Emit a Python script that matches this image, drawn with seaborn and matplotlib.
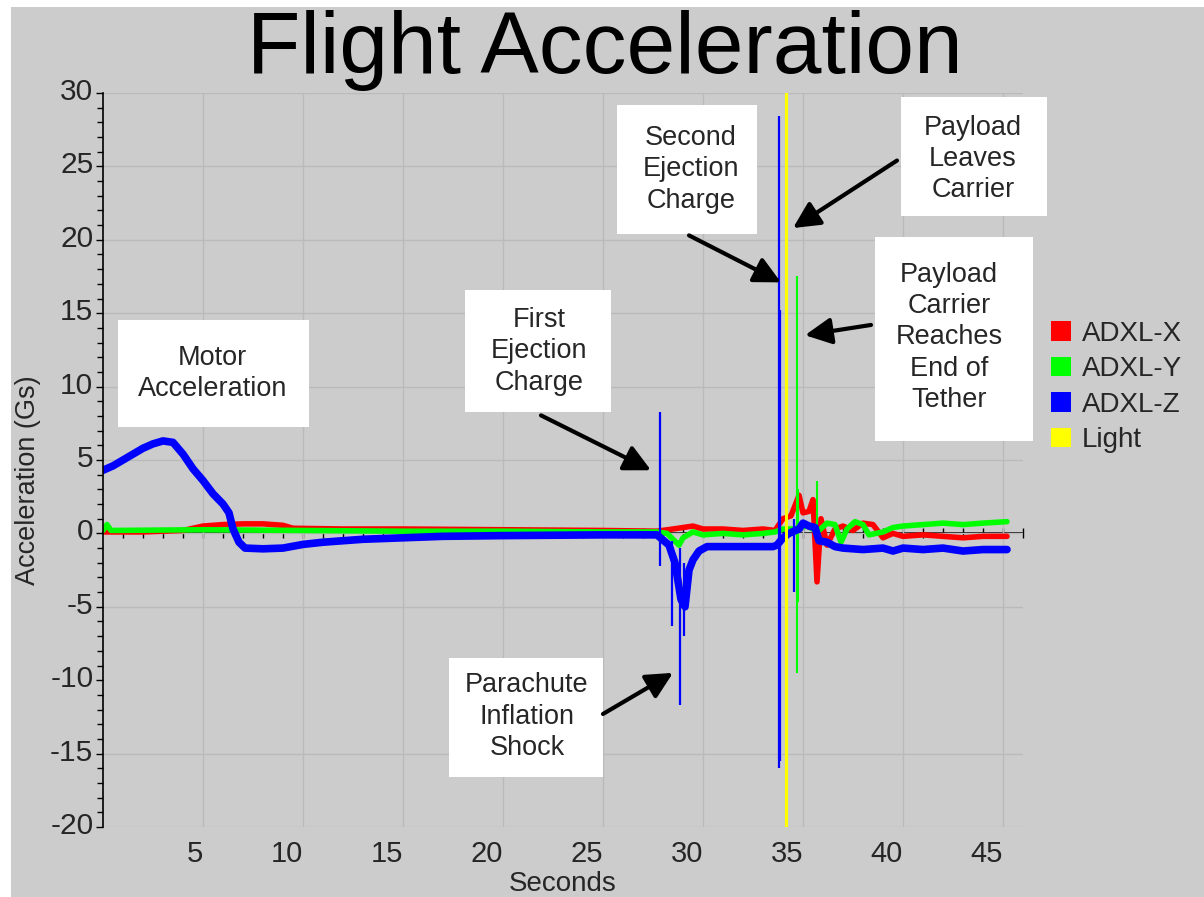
import matplotlib
matplotlib.use("Agg")
import matplotlib.pyplot as plt
import matplotlib.transforms as mtrans
from matplotlib.patches import Rectangle, Patch
from matplotlib.ticker import MultipleLocator
import seaborn as sns

# ---------------- data ----------------
# ADXL-X (red) trend
x_t = [0.0, 2.0, 4.0, 5.0, 6.0, 7.0, 8.0, 9.0, 9.5, 12.0, 15.0, 20.0, 25.0, 27.7,
       28.5, 29.0, 29.5, 30.0, 31.0, 32.0, 33.0, 33.6, 34.0, 34.4, 34.8, 35.0,
       35.3, 35.5, 35.7, 35.9, 36.2, 36.6, 37.0, 37.5, 38.0, 38.5, 39.0, 39.5,
       40.0, 41.0, 42.0, 43.0, 44.0, 45.2]
x_v = [0.1, 0.1, 0.2, 0.5, 0.6, 0.65, 0.65, 0.55, 0.35, 0.3, 0.3, 0.25, 0.2, 0.15,
       0.3, 0.4, 0.5, 0.3, 0.3, 0.2, 0.3, 0.2, 1.0, 1.2, 2.6, 1.4,
       1.5, 2.3, -3.3, 1.0, -0.8, 0.3, 0.5, 0.2, 0.7, 0.6, -0.3, 0.0,
       -0.2, -0.1, -0.2, -0.3, -0.2, -0.2]

# ADXL-Y (green) trend
y_t = [0.0, 0.2, 0.4, 5.0, 10.0, 15.0, 20.0, 25.0, 27.7, 28.2, 28.8, 29.0, 29.5,
       30.0, 31.0, 32.0, 33.0, 33.6, 34.0, 34.5, 35.2, 35.5, 35.8, 36.2, 36.6,
       36.9, 37.2, 37.6, 38.0, 38.3, 39.0, 39.5, 40.0, 41.0, 42.0, 43.0, 44.0, 45.2]
y_v = [0.2, 0.6, 0.2, 0.25, 0.2, 0.15, 0.15, 0.1, 0.1, 0.0, -0.8, -0.3, 0.1,
       -0.1, 0.0, -0.1, 0.0, 0.1, 0.3, 0.3, 0.5, 0.3, 0.2, 0.7, 0.6,
       -0.6, 0.3, 0.8, 0.6, -0.1, 0.1, 0.4, 0.5, 0.6, 0.7, 0.6, 0.7, 0.8]

# ADXL-Z (blue) trend
z_t = [0.0, 0.5, 1.0, 1.5, 2.0, 2.5, 3.0, 3.5, 4.0, 4.5, 5.0, 5.5, 6.0, 6.3, 6.5,
       6.8, 7.1, 8.0, 9.0, 10.0, 11.0, 12.0, 13.0, 14.0, 15.0, 17.0, 20.0, 25.0,
       27.7, 28.3, 28.6, 28.9, 29.1, 29.3, 29.5, 29.8, 30.2, 31.0, 33.5, 33.7,
       34.0, 34.3, 34.8, 35.0, 35.3, 35.6, 35.8, 36.2, 36.6, 37.0, 38.0, 39.0,
       39.5, 40.0, 41.0, 42.0, 43.0, 44.0, 45.2]
z_v = [4.3, 4.6, 5.0, 5.4, 5.8, 6.1, 6.3, 6.2, 5.4, 4.4, 3.6, 2.7, 2.0, 1.4, 0.3,
       -0.6, -1.0, -1.05, -1.0, -0.75, -0.6, -0.5, -0.4, -0.35, -0.3, -0.2, -0.15, -0.1,
       -0.1, -0.8, -2.0, -4.5, -5.0, -2.5, -1.8, -1.2, -0.9, -0.9, -0.9, -0.8,
       -0.3, 0.0, 0.3, 0.7, 0.5, 0.4, -0.5, -0.6, -0.9, -1.0, -1.1, -1.0,
       -1.2, -1.0, -1.1, -1.0, -1.2, -1.1, -1.1]

# short spikes: time, low, high
z_spike_t = [27.85, 28.45, 28.85, 29.05, 33.8, 33.85, 34.55]
z_spike_lo = [-2.2, -6.3, -11.7, -7.0, -16.0, -15.5, -4.0]
z_spike_hi = [8.3, -0.5, -1.0, -2.0, 28.4, 15.2, 1.0]
y_spike_t = [34.7, 34.75, 35.7]
y_spike_lo = [-9.5, -4.7, -0.5]
y_spike_hi = [17.5, 3.0, 3.6]

light_on_time = 34.15

series_names = ["ADXL-X", "ADXL-Y", "ADXL-Z", "Light"]
series_colors = ["#ff0000", "#00ff00", "#0000ff", "#ffff00"]

x_ticks = [5, 10, 15, 20, 25, 30, 35, 40, 45]
y_ticks = [-20, -15, -10, -5, 0, 5, 10, 15, 20, 25, 30]

# ---------------- style ----------------
BG = "#cccccc"
GRID = "#bababa"
sns.set_style("white", {"axes.facecolor": BG, "figure.facecolor": BG})
plt.rcParams["font.family"] = ["Liberation Sans", "DejaVu Sans"]
plt.rcParams["axes.unicode_minus"] = False

W, H = 1204, 897
fig = plt.figure(figsize=(W / 100, H / 100), dpi=100)
fig.patch.set_facecolor(BG)
# white border strips (left / top) as in the screenshot
fig.patches.append(Rectangle((0, 0), 11 / W, 1, transform=fig.transFigure,
                             facecolor="white", edgecolor="none", zorder=0))
fig.patches.append(Rectangle((0, 1 - 7 / H), 1, 7 / H, transform=fig.transFigure,
                             facecolor="white", edgecolor="none", zorder=0))

ax = fig.add_axes([103 / W, 1 - 827 / H, 920 / W, 734 / H])
ax2 = ax.twiny()
ax.set_zorder(ax2.get_zorder() + 1)
ax.patch.set_visible(False)
ax2.patch.set_facecolor(BG)

ax.set_xlim(0, 46)
ax.set_ylim(-20, 30)
ax2.set_xlim(0, 46)

# data lines
sns.lineplot(x=x_t, y=x_v, ax=ax, color=series_colors[0], lw=4, estimator=None, sort=False)
sns.lineplot(x=y_t, y=y_v, ax=ax, color=series_colors[1], lw=4, estimator=None, sort=False)
ax.vlines(y_spike_t, y_spike_lo, y_spike_hi, color=series_colors[1], lw=1.5)
sns.lineplot(x=z_t, y=z_v, ax=ax, color=series_colors[2], lw=5.5, estimator=None, sort=False)
ax.vlines(z_spike_t, z_spike_lo, z_spike_hi, color=series_colors[2], lw=1.6)
ax.axvline(light_on_time, color=series_colors[3], lw=2.2)

# axes styling
for s in ["top", "right", "bottom"]:
    ax.spines[s].set_visible(False)
ax.spines["left"].set_color("black")
ax.spines["left"].set_linewidth(1.2)
ax.set_xticks(x_ticks)
ax.set_yticks(y_ticks)
ax.yaxis.set_minor_locator(MultipleLocator(1))
ax.tick_params(axis="y", which="major", direction="out", length=5, width=1, color="black",
               labelsize=21.5, pad=2, left=True)
ax.tick_params(axis="y", which="minor", direction="out", length=4, width=1, color="black", left=True)
ax.tick_params(axis="x", which="major", length=0, labelsize=21, pad=9, bottom=True)
ax.set_xlabel("")
ax.set_ylabel("")
ax.grid(True, which="major", color=GRID, lw=1)
for tk in ax.yaxis.get_major_ticks():
    if abs(tk.get_loc()) < 1e-9:
        tk.gridline.set_visible(False)
for lab in ax.get_xticklabels():
    lab.set_ha("right")
off = mtrans.ScaledTranslation(0, 4 / 100, fig.dpi_scale_trans)
for lab in ax.get_yticklabels():
    lab.set_transform(lab.get_transform() + off)

# zero line with ticks (secondary x axis placed at y=0, behind data)
for s in ["top", "right", "left"]:
    ax2.spines[s].set_visible(False)
ax2.spines["bottom"].set_visible(True)
ax2.spines["bottom"].set_position(("data", 0))
ax2.spines["bottom"].set_color("black")
ax2.spines["bottom"].set_linewidth(1.2)
ax2.xaxis.set_ticks_position("bottom")
ax2.set_xticks(list(range(1, 47)))
ax2.tick_params(axis="x", direction="inout", length=7, width=1, color="black",
                labelbottom=False, labeltop=False, top=False)
ax2.grid(False)

# texts
fig.text(605 / W, 1 - 73 / H, "Flight Acceleration", ha="center", va="baseline",
         fontsize=63, color="black")
fig.text(563 / W, 1 - 891 / H, "Seconds", ha="center", va="baseline", fontsize=20)
fig.text(28 / W, 1 - 480 / H, "Acceleration (Gs)", ha="center", va="center",
         rotation=90, fontsize=19.5)

# annotations
def note(text, box, center, tail=None, tip=None):
    x0, x1, y0, y1 = box
    ax.add_patch(Rectangle((x0, min(y0, y1)), x1 - x0, abs(y1 - y0), facecolor="white",
                           edgecolor="none", zorder=6, clip_on=False))
    ax.text(center[0], center[1], text, ha="center", va="center", fontsize=19.5,
            zorder=7, clip_on=False, linespacing=1.27)
    if tail is not None:
        ax.annotate("", xy=tip, xytext=tail, annotation_clip=False, zorder=8,
                    arrowprops=dict(arrowstyle="-|>,head_length=0.8,head_width=0.4",
                                    lw=3, color="black", shrinkA=0, shrinkB=0,
                                    mutation_scale=20))

note("Motor\nAcceleration", (0.725, 10.275, 14.51, 7.22), (5.475, 10.9))
note("First\nEjection\nCharge", (18.1, 25.4, 16.55, 8.24), (21.8, 12.4),
     (21.9, 8.04), (27.4, 4.3))
note("Parachute\nInflation\nShock", (17.3, 25.0, -8.5, -16.6), (21.2, -12.5),
     (25.0, -12.3), (28.5, -9.5))
note("Second\nEjection\nCharge", (25.7, 32.7, 29.2, 20.4), (29.4, 24.8),
     (29.3, 20.3), (33.9, 17.1))
note("Payload\nLeaves\nCarrier", (39.9, 47.2, 29.7, 21.6), (43.5, 25.5),
     (39.7, 25.4), (34.5, 20.8))
note("Payload\nCarrier\nReaches\nEnd of\nTether", (38.6, 46.5, 20.2, 6.3), (42.3, 13.35),
     (38.4, 14.2), (35.1, 13.5))

# legend
handles = [Patch(facecolor=c, edgecolor="none", label=n) for n, c in zip(series_names, series_colors)]
fig.legend(handles=handles, loc="center left", bbox_to_anchor=(1051 / W, 1 - 387 / H),
           bbox_transform=fig.transFigure, frameon=False, fontsize=20,
           handlelength=0.72, handleheight=0.72, handletextpad=0.4,
           labelspacing=0.34, borderpad=0, borderaxespad=0)

fig.savefig("out.png", dpi=100, facecolor=BG)
